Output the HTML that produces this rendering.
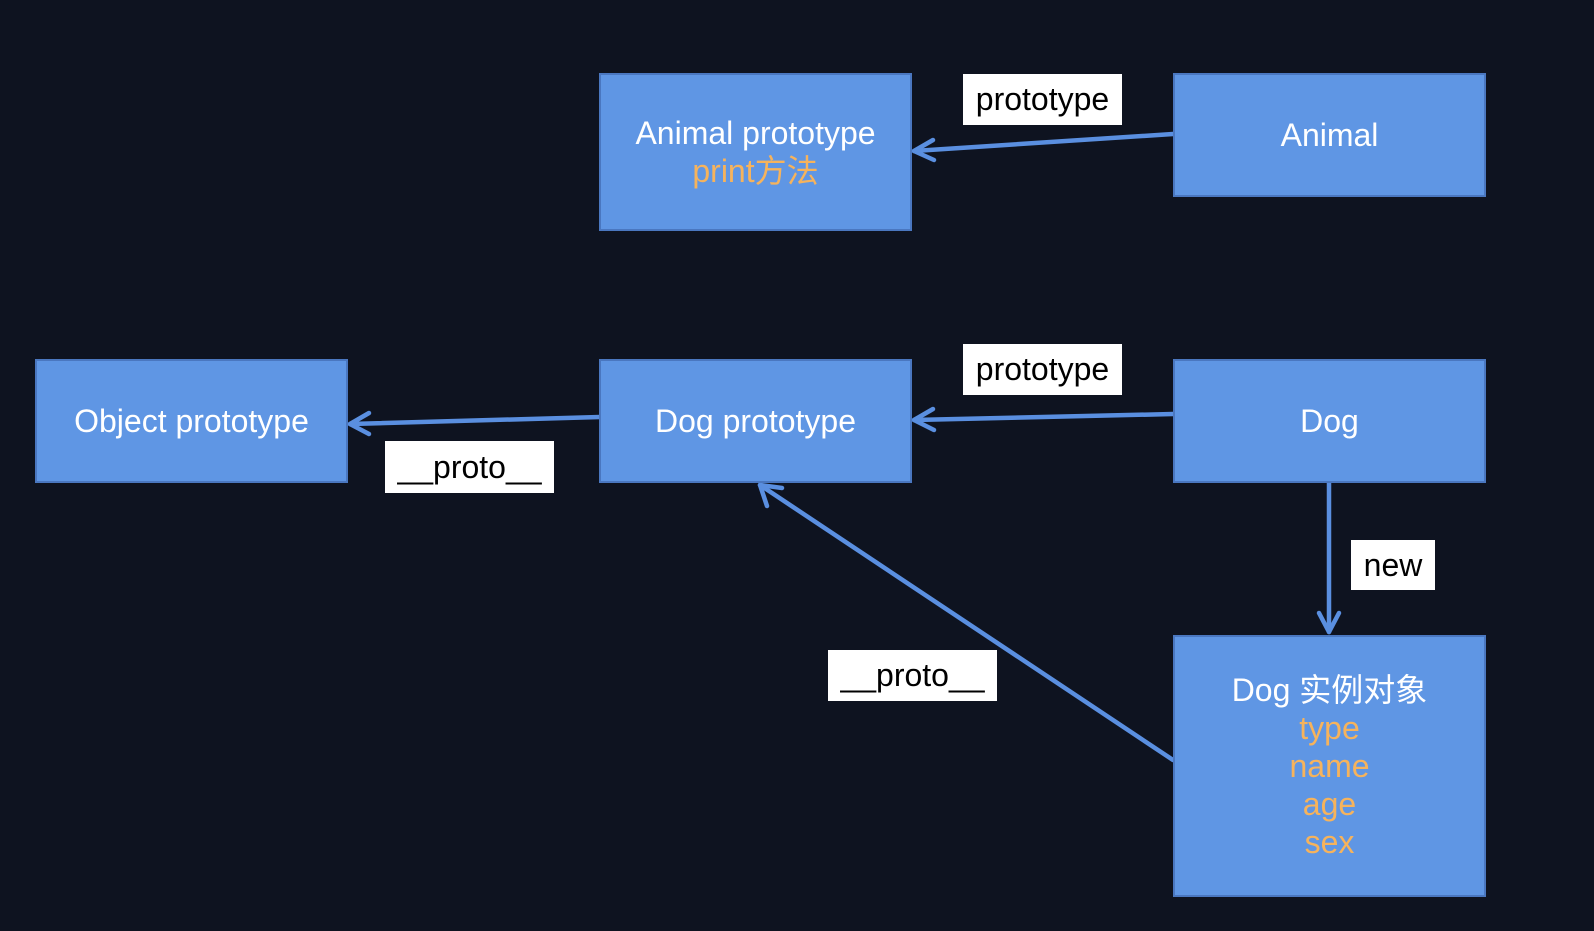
<!DOCTYPE html>
<html><head><meta charset="utf-8"><style>
html,body{margin:0;padding:0;background:#0e1320;width:1594px;height:931px;overflow:hidden}
body{position:relative;font-family:"Liberation Sans","Noto Sans CJK SC",sans-serif}
.b{position:absolute;background:#5f96e4;border:2px solid #4a77c0;box-sizing:border-box;color:#fff;font-size:32px;display:flex;flex-direction:column;align-items:center;justify-content:center;line-height:38px;text-align:center}
.o{color:#f6b35c}
.l{position:absolute;background:#fff;color:#000;font-size:32px;display:flex;align-items:center;justify-content:center}
svg{position:absolute;left:0;top:0}
</style></head><body>
<svg width="1594" height="931">
<g stroke="#5a8fe0" stroke-width="4.5" fill="none" stroke-linecap="round" stroke-linejoin="round">
<line x1="1173" y1="134" x2="914" y2="151"/><polyline points="933,140 914,151 934,160"/>
<line x1="1173" y1="414" x2="914" y2="420"/><polyline points="933,409 914,420 934,430"/>
<line x1="600" y1="417" x2="350" y2="424"/><polyline points="369,413 350,424 369,434"/>
<line x1="1173" y1="760" x2="760" y2="485"/><polyline points="767,506 760,485 782,488"/>
<line x1="1329" y1="482" x2="1329" y2="632"/><polyline points="1319,613 1329,632 1339,613"/>
</g></svg>
<div class="b" style="left:599px;top:73px;width:313px;height:158px"><div>Animal prototype</div><div class="o">print方法</div></div>
<div class="b" style="left:1173px;top:73px;width:313px;height:124px">Animal</div>
<div class="b" style="left:35px;top:359px;width:313px;height:124px">Object prototype</div>
<div class="b" style="left:599px;top:359px;width:313px;height:124px">Dog prototype</div>
<div class="b" style="left:1173px;top:359px;width:313px;height:124px">Dog</div>
<div class="b" style="left:1173px;top:635px;width:313px;height:262px"><div>Dog 实例对象</div><div class="o">type</div><div class="o">name</div><div class="o">age</div><div class="o">sex</div></div>
<div class="l" style="left:963px;top:74px;width:159px;height:51px">prototype</div>
<div class="l" style="left:963px;top:344px;width:159px;height:51px">prototype</div>
<div class="l" style="left:385px;top:441px;width:169px;height:52px">__proto__</div>
<div class="l" style="left:828px;top:650px;width:169px;height:51px">__proto__</div>
<div class="l" style="left:1351px;top:540px;width:84px;height:50px">new</div>
</body></html>
